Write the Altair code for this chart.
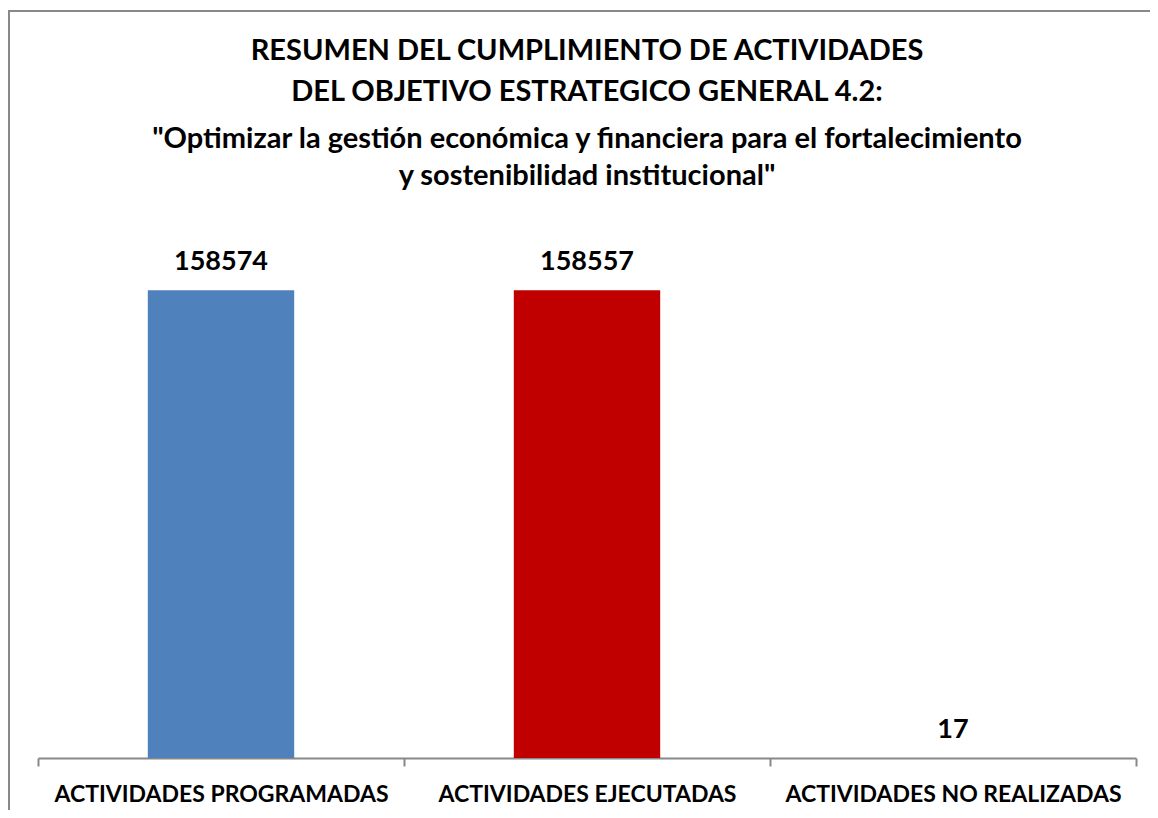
import altair as alt
import pandas as pd

categories = ["ACTIVIDADES PROGRAMADAS", "ACTIVIDADES EJECUTADAS", "ACTIVIDADES NO REALIZADAS"]
values = [158574, 158557, 17]
colors = ["#4F81BD", "#C00000", "#9BBB59"]

title_lines = ["RESUMEN DEL CUMPLIMIENTO DE ACTIVIDADES", "DEL OBJETIVO ESTRATEGICO GENERAL 4.2:"]
subtitle_lines = ['"Optimizar la gestión económica y financiera para el fortalecimiento',
                  'y sostenibilidad institucional"']

df = pd.DataFrame({"cat": categories, "val": values, "color": colors})

FONT = "Lato"

x_enc = alt.X("cat:N", sort=categories,
              scale=alt.Scale(paddingInner=0, paddingOuter=0),
              axis=alt.Axis(title=None, labelAngle=0, labelFont=FONT, labelFontSize=23,
                            labelFontWeight="bold", labelColor="#000000", labelPadding=17,
                            domainColor="#888888", domainWidth=2, tickColor="#888888",
                            tickWidth=2, tickSize=8, tickBand="extent", labelLimit=400))
y_enc = alt.Y("val:Q", scale=alt.Scale(domain=[0, 180000]), axis=None)

border = alt.Chart(df).mark_rect(filled=False, stroke="#888888", strokeWidth=2).encode(
    x=alt.value(-29), x2=alt.value(1140), y=alt.value(-216), y2=alt.value(700)
)

bars = alt.Chart(df).mark_bar(width=alt.RelativeBandSize(0.4)).encode(
    x=x_enc, y=y_enc,
    color=alt.Color("color:N", scale=None),
)

labels = alt.Chart(df).mark_text(font=FONT, fontSize=27, fontWeight="bold", color="#000000",
                                 baseline="alphabetic", dy=-20).encode(
    x=alt.X("cat:N", sort=categories), y=y_enc, text=alt.Text("val:Q", format="d")
)

chart = alt.layer(border, bars, labels).properties(
    width=1098, height=531,
    padding={"left": 30, "top": 219, "right": 14, "bottom": 52},
    autosize=alt.AutoSizeParams(type="none"),
    title=alt.TitleParams(text=title_lines, subtitle=subtitle_lines, anchor="middle",
                          font=FONT, fontSize=29, fontWeight="bold", color="#000000",
                          lineHeight=41, subtitleFont=FONT, subtitleFontSize=29,
                          subtitleFontWeight="bold", subtitleColor="#000000",
                          subtitleLineHeight=37, subtitlePadding=18, offset=-181),
).configure(background="white").configure_view(stroke=None)

chart.save("out.html", embed_options={"renderer": "svg", "actions": False})
